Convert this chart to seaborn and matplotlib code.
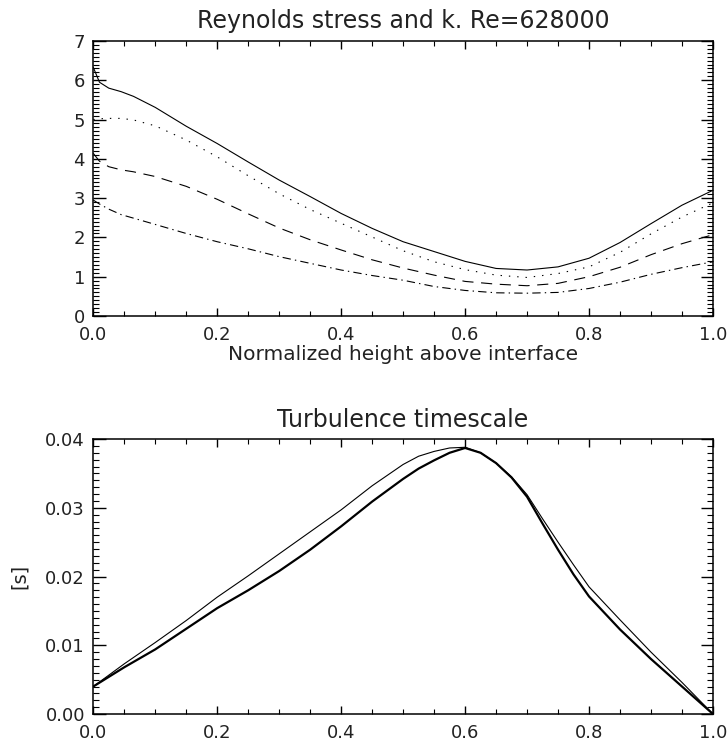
import matplotlib
matplotlib.use("Agg")
import matplotlib.pyplot as plt
from matplotlib.ticker import MultipleLocator, AutoMinorLocator, FormatStrFormatter
import seaborn as sns
import pandas as pd

# Reynolds stress components and k versus normalized height
height = [0.0, 0.01, 0.025, 0.045, 0.065, 0.1, 0.15, 0.2, 0.25, 0.3, 0.35, 0.4,
          0.45, 0.5, 0.55, 0.6, 0.65, 0.7, 0.75, 0.8, 0.85, 0.9, 0.95, 1.0]
stress_solid = [6.33, 5.95, 5.80, 5.71, 5.59, 5.31, 4.83, 4.39, 3.92, 3.46, 3.04, 2.61,
                2.23, 1.89, 1.64, 1.39, 1.21, 1.17, 1.25, 1.47, 1.87, 2.35, 2.82, 3.20]
stress_dotted = [5.00, 5.02, 5.03, 5.03, 4.99, 4.84, 4.48, 4.05, 3.57, 3.11, 2.71, 2.36,
                 2.01, 1.66, 1.38, 1.18, 1.04, 0.98, 1.08, 1.25, 1.62, 2.09, 2.52, 2.88]
stress_dashed = [4.14, 3.94, 3.80, 3.72, 3.67, 3.55, 3.30, 2.97, 2.60, 2.24, 1.94, 1.68,
                 1.43, 1.22, 1.04, 0.88, 0.81, 0.77, 0.83, 1.00, 1.24, 1.56, 1.84, 2.07]
stress_dashdot = [2.95, 2.85, 2.72, 2.58, 2.49, 2.33, 2.10, 1.89, 1.71, 1.51, 1.34, 1.17,
                  1.03, 0.91, 0.75, 0.65, 0.59, 0.58, 0.60, 0.70, 0.86, 1.06, 1.23, 1.38]

# Turbulence timescale
height_t = [0.0, 0.05, 0.1, 0.15, 0.2, 0.25, 0.3, 0.35, 0.4, 0.45, 0.5, 0.525, 0.55,
            0.575, 0.6, 0.625, 0.65, 0.675, 0.7, 0.725, 0.75, 0.775, 0.8, 0.85, 0.9,
            0.95, 1.0]
tau_thin = [0.0040, 0.0073, 0.0104, 0.0136, 0.0170, 0.0201, 0.0233, 0.0265, 0.0297,
            0.0332, 0.0363, 0.0375, 0.0382, 0.0387, 0.0388, 0.0380, 0.0365, 0.0345,
            0.0319, 0.0284, 0.0250, 0.0217, 0.0185, 0.0137, 0.0090, 0.0046, 0.0]
tau_thick = [0.0040, 0.0068, 0.0094, 0.0124, 0.0154, 0.0180, 0.0208, 0.0239, 0.0273,
             0.0309, 0.0342, 0.0357, 0.0369, 0.0380, 0.0387, 0.0380, 0.0365, 0.0344,
             0.0316, 0.0277, 0.0239, 0.0203, 0.0171, 0.0123, 0.0080, 0.0040, 0.0]

x_ticks = [0.0, 0.2, 0.4, 0.6, 0.8, 1.0]
top_title = "Reynolds stress and k. Re=628000"
bottom_title = "Turbulence timescale"
x_label = "Normalized height above interface"
y_label_bottom = "[s]"

sns.set_theme(style="ticks")
plt.rcParams["font.family"] = ["DejaVu Sans"]
plt.rcParams["lines.scale_dashes"] = False

fig = plt.figure(figsize=(7.27, 7.44), dpi=100)
ax1 = fig.add_axes([0.1283, 0.5753, 0.8524, 0.3696])
ax2 = fig.add_axes([0.1283, 0.0403, 0.8524, 0.3696])

top_df = pd.DataFrame({"h": height, "solid": stress_solid, "dotted": stress_dotted,
                       "dashed": stress_dashed, "dashdot": stress_dashdot})
patterns = {"solid": None, "dotted": (1.0, 5.0), "dashed": (8.0, 5.5),
            "dashdot": (6.0, 3.0, 1.0, 3.0)}
for name, dash in patterns.items():
    sns.lineplot(data=top_df, x="h", y=name, ax=ax1, color="black", lw=0.8,
                 sort=False, estimator=None)
    if dash is not None:
        ax1.lines[-1].set_dashes(dash)

bot_df = pd.DataFrame({"h": height_t, "thin": tau_thin, "thick": tau_thick})
sns.lineplot(data=bot_df, x="h", y="thin", ax=ax2, color="black", lw=0.8,
             sort=False, estimator=None)
sns.lineplot(data=bot_df, x="h", y="thick", ax=ax2, color="black", lw=1.6,
             sort=False, estimator=None)

ax1.set_xlim(0, 1)
ax1.set_ylim(0, 7)
ax2.set_xlim(0, 1)
ax2.set_ylim(0, 0.04)

for ax in (ax1, ax2):
    ax.set_xticks(x_ticks)
    ax.xaxis.set_major_formatter(FormatStrFormatter("%.1f"))
    ax.xaxis.set_minor_locator(AutoMinorLocator(4))
    ax.yaxis.set_minor_locator(AutoMinorLocator(10))
    ax.tick_params(which="both", direction="in", top=True, right=True,
                   color="black", labelcolor="#222222", labelsize=13)
    ax.tick_params(axis="x", which="major", length=6, width=1.0, pad=7)
    ax.tick_params(axis="x", which="minor", length=3.5, width=0.8)
    ax.tick_params(axis="y", which="major", length=9, width=1.0, pad=6)
    ax.tick_params(axis="y", which="minor", length=4.5, width=0.8)
    for sp in ax.spines.values():
        sp.set_visible(True)
        sp.set_color("black")
        sp.set_linewidth(1.1)
    ax.set_facecolor("white")

ax1.yaxis.set_major_locator(MultipleLocator(1))
ax2.yaxis.set_major_locator(MultipleLocator(0.01))
ax2.yaxis.set_major_formatter(FormatStrFormatter("%.2f"))

ax1.set_title(top_title, fontsize=17, pad=9, color="#222222")
ax2.set_title(bottom_title, fontsize=17, pad=9, color="#222222")
ax1.set_xlabel(x_label, fontsize=14.5, labelpad=1, color="#222222")
ax1.set_ylabel("")
ax2.set_xlabel("")
ax2.set_ylabel(y_label_bottom, fontsize=14, labelpad=12, color="#222222")

fig.patch.set_facecolor("white")
fig.savefig("out.png", dpi=100, facecolor="white")
